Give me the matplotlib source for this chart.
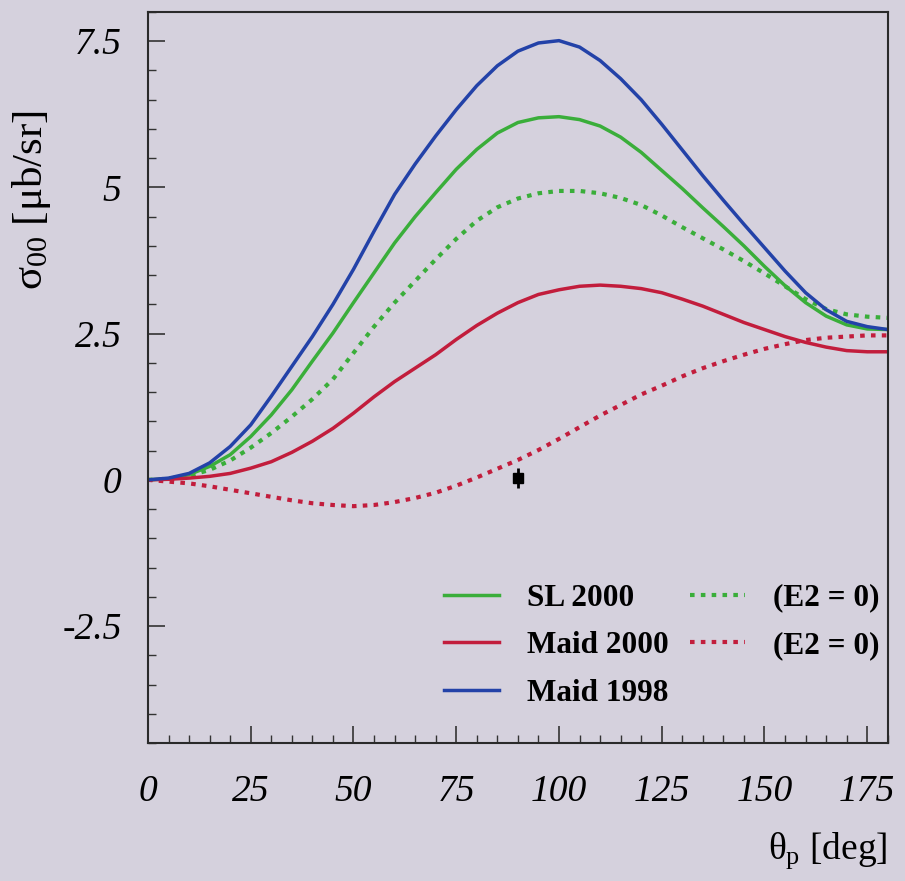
import matplotlib
matplotlib.use('Agg')
import matplotlib.pyplot as plt
from matplotlib.lines import Line2D
from matplotlib.ticker import MultipleLocator

plt.rcParams['font.family'] = ['Liberation Serif', 'DejaVu Serif']
plt.rcParams['mathtext.fontset'] = 'custom'
plt.rcParams['mathtext.rm'] = 'Liberation Serif'
plt.rcParams['mathtext.it'] = 'Liberation Serif'
plt.rcParams['mathtext.bf'] = 'Liberation Serif:bold'

# proton angle in degrees, 5 degree steps
theta = list(range(0, 181, 5))

sl2000 = [0, 0.02, 0.09, 0.23, 0.43, 0.74, 1.11, 1.54, 2.03, 2.51,
          3.03, 3.54, 4.05, 4.5, 4.91, 5.31, 5.65, 5.93, 6.11, 6.19,
          6.21, 6.16, 6.05, 5.86, 5.6, 5.29, 4.98, 4.65, 4.33, 4.0,
          3.65, 3.32, 3.03, 2.8, 2.65, 2.58, 2.57]
sl2000_e2 = [0, 0.02, 0.07, 0.17, 0.33, 0.55, 0.8, 1.08, 1.38, 1.72,
             2.17, 2.62, 3.03, 3.4, 3.77, 4.12, 4.43, 4.66, 4.81, 4.9,
             4.94, 4.94, 4.9, 4.82, 4.7, 4.52, 4.32, 4.13, 3.94, 3.74,
             3.53, 3.31, 3.09, 2.92, 2.83, 2.79, 2.77]
maid2000 = [0, 0.01, 0.03, 0.06, 0.11, 0.2, 0.31, 0.47, 0.66, 0.88,
            1.14, 1.42, 1.68, 1.91, 2.14, 2.4, 2.64, 2.85, 3.03, 3.17,
            3.25, 3.31, 3.33, 3.31, 3.27, 3.2, 3.09, 2.97, 2.83, 2.69,
            2.57, 2.45, 2.35, 2.27, 2.21, 2.19, 2.19]
maid2000_e2 = [0, -0.03, -0.06, -0.11, -0.17, -0.23, -0.29, -0.35, -0.4, -0.43,
               -0.45, -0.43, -0.38, -0.31, -0.22, -0.1, 0.04, 0.19, 0.34, 0.51,
               0.7, 0.9, 1.1, 1.28, 1.46, 1.61, 1.77, 1.91, 2.03, 2.14,
               2.24, 2.32, 2.39, 2.43, 2.45, 2.47, 2.47]
maid1998 = [0, 0.03, 0.11, 0.29, 0.57, 0.94, 1.43, 1.94, 2.45, 3.0,
            3.6, 4.25, 4.88, 5.4, 5.88, 6.33, 6.74, 7.08, 7.33, 7.47,
            7.51, 7.4, 7.17, 6.86, 6.5, 6.08, 5.64, 5.2, 4.78, 4.37,
            3.97, 3.57, 3.2, 2.91, 2.71, 2.62, 2.57]

# measured point
data_theta = [90]
data_sigma = [0.03]
data_err = [0.17]

green = '#3aae3a'
red = '#c21d3c'
blue = '#2342a8'
bg = '#d5d1dd'

fig = plt.figure(figsize=(9.05, 8.81), dpi=100, facecolor=bg)
ax = fig.add_axes([0.1635, 0.1566, 0.8175, 0.8298])
ax.set_facecolor(bg)

dots = (0, (1.1, 1.5))
l_sl, = ax.plot(theta, sl2000, color=green, lw=2.5)
l_sle2, = ax.plot(theta, sl2000_e2, color=green, lw=3, ls=dots)
l_m00, = ax.plot(theta, maid2000, color=red, lw=2.5)
l_m00e2, = ax.plot(theta, maid2000_e2, color=red, lw=3, ls=dots)
l_m98, = ax.plot(theta, maid1998, color=blue, lw=2.5)

ax.errorbar(data_theta, data_sigma, yerr=data_err, fmt='s', color='black',
            ms=7, elinewidth=2, capsize=0)

ax.set_xlim(0, 180)
ax.set_ylim(-4.5, 8)
ax.xaxis.set_minor_locator(MultipleLocator(5))
ax.yaxis.set_minor_locator(MultipleLocator(0.5))
ax.set_xticks([0, 25, 50, 75, 100, 125, 150, 175])
ax.set_xticklabels(['0', '25', '50', '75', '100', '125', '150', '175'])
ax.set_yticks([-2.5, 0, 2.5, 5, 7.5])
ax.set_yticklabels(['-2.5', '0', '2.5', '5', '7.5'])
ax.tick_params(which='both', direction='in', top=False, right=False, color='#333333')
ax.tick_params(which='major', length=12, width=1.2, labelsize=27)
ax.tick_params(axis='x', which='major', pad=23)
ax.tick_params(axis='y', which='major', pad=19)
ax.tick_params(which='minor', length=6, width=1.0)
for lbl in ax.get_xticklabels() + ax.get_yticklabels():
    lbl.set_fontstyle('italic')
for s in ax.spines.values():
    s.set_color('#2a2a2a')
    s.set_linewidth(1.5)

blank = Line2D([], [], color='none')
ax.legend([l_sl, l_m00, l_m98, l_sle2, l_m00e2, blank],
          ['SL 2000', 'Maid 2000', 'Maid 1998', '(E2 = 0)', '(E2 = 0)', ''],
          ncol=2, loc='upper left', bbox_to_anchor=(0.4, 0.218), frameon=False,
          prop={'family': 'Liberation Serif', 'weight': 'bold', 'size': 22.5},
          handlelength=1.75, handletextpad=0.9, columnspacing=0.7,
          labelspacing=0.6, borderpad=0, borderaxespad=0)

fig.text(0.035, 0.773, r'$\sigma_{00}$ [$\mu$b/sr]', rotation=90, ha='center',
         va='center', fontsize=31)
fig.text(0.981, 0.035, r'$\theta_{\rm p}$ [deg]', ha='right', va='center', fontsize=27)

fig.savefig('out.png', dpi=100, facecolor=bg)
